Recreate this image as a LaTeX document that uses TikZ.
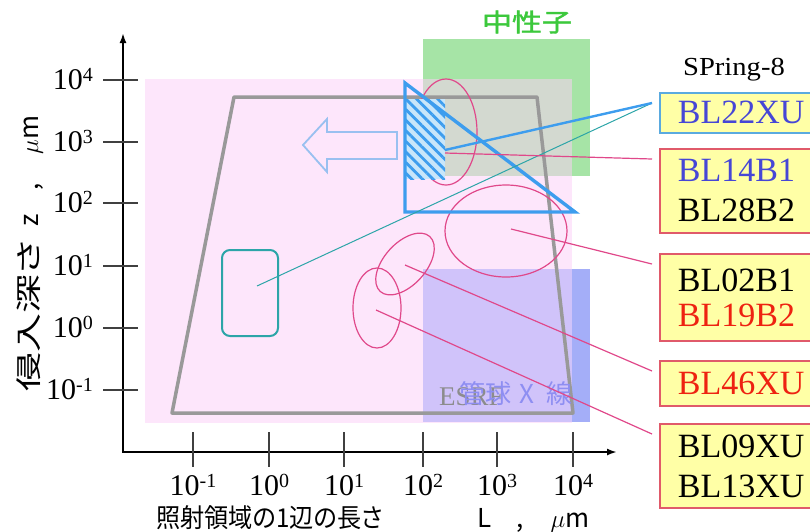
\documentclass[tikz,border=0pt]{standalone}
\usepackage{fontspec}
\setmainfont{Liberation Serif}
\newfontfamily\cjk{Noto Sans CJK JP}
\newfontfamily\cjkp{Noto Sans CJK JP}[RawFeature=+palt]
\newfontfamily\cjkbold{Noto Sans CJK JP}[FakeBold=1.5]
\usetikzlibrary{arrows.meta,patterns.meta,calc}
\definecolor{pinkbg}{HTML}{FDE6FB}
\definecolor{greenbg}{HTML}{A6E4A6}
\definecolor{ovgray}{HTML}{D3D9D0}
\definecolor{blueonly}{HTML}{A4AEF8}
\definecolor{lavender}{HTML}{D0C3FA}
\definecolor{trapgray}{HTML}{999999}
\definecolor{triblue}{HTML}{3D9DEE}
\definecolor{hatchbg}{HTML}{C8E6FA}
\definecolor{harrowc}{HTML}{99C0F0}
\definecolor{tealc}{HTML}{2CA5A8}
\definecolor{redln}{HTML}{E0488A}
\definecolor{boxy}{HTML}{FFFFA6}
\definecolor{boxrd}{HTML}{E05A6A}
\definecolor{boxbl}{HTML}{5AAADF}
\definecolor{txbl}{HTML}{4646D6}
\definecolor{txrd}{HTML}{EE2211}
\definecolor{neutg}{HTML}{3CC83C}
\definecolor{esrfg}{HTML}{8C8C8C}
\definecolor{tubec}{HTML}{8E8EF2}
\newcommand\tenp[1]{10\raisebox{8pt}{\fontsize{20}{20}\selectfont #1}}
\begin{document}
\begin{tikzpicture}[x=1pt,y=-1pt,
  redl/.style={draw=redln, line width=1.2pt},
  bluel/.style={draw=triblue, line width=2.4pt},
  teall/.style={draw=tealc, line width=1pt},
  tri/.style={draw=triblue, line width=3.4pt, line join=miter},
  trap/.style={draw=trapgray, line width=3.5pt, line join=round},
  axisl/.style={line width=2.8pt, {Latex[length=10pt,width=7pt]}-{Latex[length=10pt,width=7pt]}},
  tickl/.style={draw=black!75, line width=1.2pt},
  ticklab/.style={font=\fontsize{30}{32}\selectfont, inner sep=0pt},
  bx/.style={fill=boxy, line width=1.8pt, anchor=north west, text width=150pt,
    inner xsep=18pt, inner ysep=0pt, align=left, font=\fontsize{34}{40}\selectfont},
  cjkt/.style={font=\cjkp\fontsize{26}{28}\selectfont, inner sep=0pt},
]
\useasboundingbox (0,0) rectangle (810,531);
% background regions
\fill[pinkbg] (145,79) rectangle (572,423);
\fill[greenbg] (423,39) rectangle (590,176);
\fill[ovgray] (423,79) rectangle (572,176);
\fill[blueonly] (423,269) rectangle (590,422);
\fill[lavender] (423,269) rectangle (572,422);
% trapezoid
\draw[trap] (234,97) -- (537,97) -- (573,413) -- (172,413) -- cycle;
% region labels
\node[anchor=base west, inner sep=0pt, text=esrfg, font=\fontsize{27}{28}\selectfont] (esrf) at (439,405) {ESRF};
\node[anchor=base west, inner sep=0pt, text=tubec, font=\cjk\fontsize{26}{28}\selectfont] (tube) at (459,403) {管球\hspace{8pt}X\hspace{12pt}線};
\node[inner sep=0pt, text=neutg, font=\cjkbold\fontsize{25}{28}\selectfont] (neut) at (527,22) {\scalebox{1.2}[1]{中性子}};
\node[inner sep=0pt, font=\fontsize{26}{28}\selectfont] (spring) at (734,70) {\scalebox{1.1}[1]{SPring-8}};
% axes
\draw[axisl] (123,33) -- (123,452) -- (617,452);
\foreach \y in {80,142,203,266,328,390} \draw[tickl] (103,\y) -- (138,\y);
\foreach \x in {193,269,344,423,497,573} \draw[tickl] (\x,432) -- (\x,467);
\foreach \y/\e [count=\i] in {80/4,142/3,203/2,266/1,328/0,390/-1}
  \node[ticklab, anchor=base east] (ylab\i) at (93,\y+9.5) {\tenp{\e}};
\foreach \x/\e [count=\i] in {193/-1,269/0,344/1,423/2,497/3,573/4}
  \node[ticklab, anchor=base] (xlab\i) at (\x,495) {\tenp{\e}};
% axis titles
\node[cjkt, anchor=base west] (xt1) at (156,527) {\scalebox{0.93}[1]{照射領域の1辺の長さ}};
\node[cjkt, anchor=base] (xt2) at (485,527) {L};
\node[cjkt, anchor=base] (xt3) at (520,527) {,};
\node[cjkt, anchor=base] (xt4) at (570,527) {$\mu$m};
\node[cjkt, anchor=base, rotate=90] (yt1) at (38,316) {\scalebox{1.5}[1]{侵入深さ}};
\node[cjkt, anchor=base, rotate=90] (yt2) at (38,220) {z};
\node[cjkt, anchor=base, rotate=90] (yt3) at (38,187) {,};
\node[cjkt, anchor=base, rotate=90] (yt4) at (38,135) {$\mu$m};
% ellipses
\draw[redl] (446,132) ellipse [x radius=31, y radius=53];
\draw[redl] (506,231) ellipse [x radius=61, y radius=46];
\draw[redl, rotate around={48:(405,264)}] (405,264) ellipse [x radius=37, y radius=21];
\draw[redl] (377,308) ellipse [x radius=24, y radius=40];
% hatched region and triangle
\fill[hatchbg] (405,99) rectangle (445,179);
\fill[pattern={Lines[angle=-45,distance=7.5pt,line width=2.8pt]}, pattern color=triblue] (405,99) rectangle (445,179);
\draw[tri] (405,83) -- (405,212) -- (575,212) -- cycle;
% hollow arrow
\draw[draw=harrowc, line width=1.8pt, line join=miter] (303,145) -- (327,119) -- (327,132) -- (397,132) -- (397,159) -- (327,159) -- (327,172) -- cycle;
% teal box
\node[draw=tealc, line width=2pt, rounded corners=8pt, minimum width=56pt, minimum height=86pt, inner sep=0pt] (tealbox) at (250,293) {};
% boxes
\node[bx, draw=boxbl, minimum height=40pt] (b22) at (659,92) {\textcolor{txbl}{BL22XU}};
\node[bx, draw=boxrd, minimum height=84pt] (b14) at (659,148) {\textcolor{txbl}{BL14B1}\\BL28B2};
\node[bx, draw=boxrd, minimum height=87pt] (b02) at (659,253) {BL02B1\\[-5pt]\textcolor{txrd}{BL19B2}};
\node[bx, draw=boxrd, minimum height=45pt] (b46) at (659,360) {\textcolor{txrd}{BL46XU}};
\node[bx, draw=boxrd, minimum height=84pt] (b09) at (659,423) {BL09XU\\BL13XU};
% connector end points
\coordinate (e22) at ($(b22.north west)+(-7,11)$);
\coordinate (e14) at ($(b14.north west)+(-7,11)$);
\coordinate (e02) at ($(b02.north west)+(-7,11)$);
\coordinate (e46) at ($(b46.north west)+(-7,11)$);
\coordinate (e09) at ($(b09.north west)+(-7,11)$);
\coordinate (sh) at (445,150);
\coordinate (st) at (257,286);
\coordinate (s14) at (445,153);
\coordinate (s02) at (511,229);
\coordinate (s46) at (405,265);
\coordinate (s09) at (376,310);
% connectors
\draw[teall] (st) -- (e22);
\draw[bluel] (sh) -- (e22);
\draw[redl] (s14) -- (e14);
\draw[redl] (s02) -- (e02);
\draw[redl] (s46) -- (e46);
\draw[redl] (s09) -- (e09);
\end{tikzpicture}
\end{document}
